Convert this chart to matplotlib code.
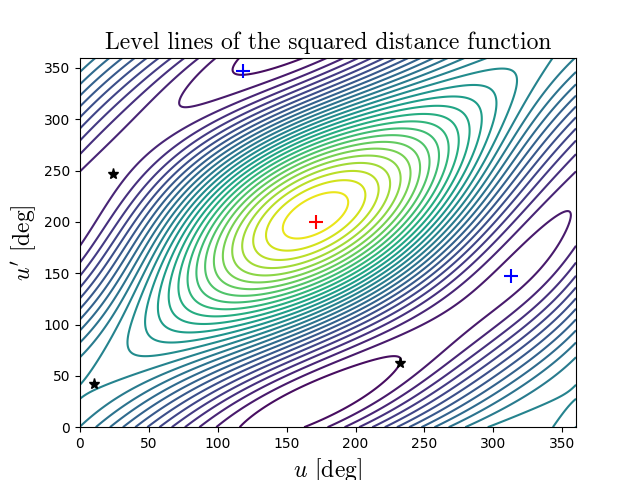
import numpy as np
import matplotlib
matplotlib.use("Agg")
import matplotlib.pyplot as plt

plt.rcParams["mathtext.fontset"] = "cm"

# orbital elements (semimajor axis, eccentricity, arg. perihelion deg, inclination deg, node deg, anomaly phase deg)
orbit1 = dict(a=1.0, e=0.15, w=0.0, i=0.0, node=0.0, phase=34.0)
orbit2 = dict(a=1.25, e=0.25, w=200.0, i=35.0, node=20.0, phase=-40.0)

max_pt = [(171, 200)]
min_pts = [(118, 347), (313, 147)]
saddle_pts = [(24, 247), (10, 42), (232, 63)]
n_levels = 30

def pos(o, u):
    u = u + np.radians(o["phase"])
    a, e = o["a"], o["e"]
    x = a * (np.cos(u) - e)
    y = a * np.sqrt(1 - e**2) * np.sin(u)
    w, inc, node = np.radians(o["w"]), np.radians(o["i"]), np.radians(o["node"])
    x1 = x*np.cos(w) - y*np.sin(w); y1 = x*np.sin(w) + y*np.cos(w)
    y2 = y1*np.cos(inc); z2 = y1*np.sin(inc)
    X = x1*np.cos(node) - y2*np.sin(node); Y = x1*np.sin(node) + y2*np.cos(node)
    return X, Y, z2

ug = np.linspace(0, 360, 400)
U, V = np.meshgrid(ug, ug)
p1 = pos(orbit1, np.radians(U)); p2 = pos(orbit2, np.radians(V))
D = sum((a-b)**2 for a, b in zip(p1, p2))

fig, ax = plt.subplots(figsize=(6.4, 4.8), dpi=100)
ax.contour(U, V, D, levels=n_levels, cmap="viridis")
ax.plot(*zip(*max_pt), "r+", ms=10, mew=1.5)
ax.plot(*zip(*min_pts), "b+", ms=10, mew=1.5, ls="none")
ax.plot(*zip(*saddle_pts), "k*", ms=8, ls="none")
ax.set_xlim(0, 360); ax.set_ylim(0, 360)
ax.set_title("Level lines of the squared distance function", fontsize=17, family="cmr10")
ax.set_xlabel(r"$u$ [deg]", fontsize=17, family="cmr10")
ax.set_ylabel(r"$u'$ [deg]", fontsize=17, family="cmr10")
fig.savefig("out.png")
